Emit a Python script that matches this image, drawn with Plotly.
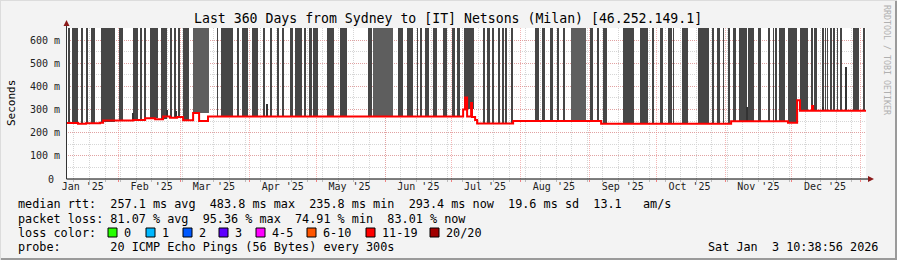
import numpy as np
import pandas as pd
import plotly.graph_objects as go

START = pd.Timestamp("2025-01-08 10:39")
END = START + pd.Timedelta(days=360)

# ---- data (day offsets from START, values in ms) ----
bar_start = [0.9, 2.7, 6.8, 9.0, 11.3, 15.8, 23.9, 30.2, 33.3, 35.1, 37.8, 42.8, 46.8, 48.6, 50.4,
             52.7, 57.2, 68.0, 69.8, 77.0, 79.2, 83.7, 88.7, 91.8, 95.0, 97.2, 100.8, 103.1, 107.1,
             109.4, 111.2, 117.5, 123.3, 135.9, 138.2, 149.4, 153.5, 158.0, 159.3, 161.6, 165.2,
             169.7, 173.7, 176.0, 179.1, 187.7, 189.5, 191.7, 194.4, 196.2, 197.6, 200.3, 211.1,
             214.2, 217.8, 221.0, 223.7, 227.3, 235.8, 239.0, 241.7, 250.7, 258.3, 263.7, 267.3,
             270.9, 273.2, 277.2, 284.4, 290.7, 293.0, 295.7, 297.9, 300.2, 302.9, 306.9, 311.4,
             315.9, 318.2, 319.1, 320.9, 324.9, 330.3, 335.3, 336.6, 340.2, 341.6, 342.5, 343.8,
             345.2, 347.0, 348.3, 354.2, 358.7]
bar_end = [1.8, 5.4, 7.7, 9.9, 13.1, 22.1, 25.7, 32.4, 34.2, 35.6, 41.4, 45.5, 47.7, 49.5, 51.3,
           55.4, 64.4, 68.4, 75.2, 77.9, 81.9, 86.4, 89.6, 92.7, 95.9, 97.7, 102.2, 106.2, 108.0,
           110.7, 113.4, 120.6, 126.5, 137.7, 147.2, 151.7, 156.2, 158.4, 160.2, 163.4, 167.0,
           171.5, 175.1, 177.3, 183.6, 188.6, 190.8, 192.2, 195.3, 196.7, 198.5, 201.2, 212.9,
           215.6, 219.2, 221.9, 224.6, 234.0, 237.2, 239.9, 243.5, 255.6, 261.9, 264.6, 268.7,
           272.7, 273.6, 279.9, 289.4, 291.2, 294.3, 296.1, 298.8, 301.5, 306.5, 309.6, 312.8,
           316.8, 318.6, 320.0, 323.6, 328.9, 333.9, 336.2, 337.9, 340.7, 342.0, 342.9, 344.3,
           346.1, 347.4, 349.2, 356.9, 359.6]
light_bars = [16, 34, 57]

spike_day = [30.2, 45.5, 49.5, 90.5, 306.5, 340.7, 351.2]
spike_top = [285, 300, 295, 322, 312, 310, 484]

median_day = [0, 5.4, 9.0, 15.3, 16.7, 30.2, 35.6, 40.1, 43.7, 46.8, 50.0, 52.7, 57.2, 59.9, 63.9,
              178.7, 179.6, 180.5, 182.3, 182.7, 184.1, 185.0, 201.2, 240.8, 299.3, 324.9, 329.0,
              330.3, 335.7, 336.2, 360]
median_ms = [242, 238, 241, 243, 252, 255, 262, 258, 270, 264, 268, 254, 285, 250, 270,
             300, 352, 270, 328, 268, 255, 240, 250, 239, 249, 243, 340,
             295, 315, 295, 295]

month_starts = ["2025-02-01", "2025-03-01", "2025-04-01", "2025-05-01", "2025-06-01", "2025-07-01",
                "2025-08-01", "2025-09-01", "2025-10-01", "2025-11-01", "2025-12-01", "2026-01-01"]
label_dates = ["2025-01-16", "2025-02-16", "2025-03-16", "2025-04-16", "2025-05-16", "2025-06-16",
               "2025-07-16", "2025-08-16", "2025-09-16", "2025-10-16", "2025-11-16", "2025-12-16"]
label_text = ["Jan '25", "Feb '25", "Mar '25", "Apr '25", "May '25", "Jun '25",
              "Jul '25", "Aug '25", "Sep '25", "Oct '25", "Nov '25", "Dec '25"]
y_ticks = [0, 100, 200, 300, 400, 500, 600]
y_text = ["0\u00a0", "100 m", "200 m", "300 m", "400 m", "500 m", "600 m"]

loss_labels = ["0", "1", "2", "3", "4-5", "6-10", "11-19", "20/20"]
loss_colors = ["#26ff00", "#00b8ff", "#0059ff", "#5e00ff", "#ff00ff", "#ff5500", "#ff0000", "#a10000"]

title = "Last 360 Days from Sydney to [IT] Netsons (Milan) [46.252.149.1]"
line1 = "median rtt:  257.1 ms avg  483.8 ms max  235.8 ms min  293.4 ms now  19.6 ms sd  13.1   am/s"
line2 = "packet loss: 81.07 % avg  95.36 % max  74.91 % min  83.01 % now"
line3 = "loss color:"
line4 = "probe:       20 ICMP Echo Pings (56 Bytes) every 300s"
stamp = "Sat Jan  3 10:38:56 2026"

# ---- geometry helpers ----
L, R, T, B = 66, 31, 28, 81
W, H = 897, 260
PW, PH = W - L - R, H - T - B
YMAX = 651.8
MONO = "DejaVu Sans Mono"


def px(x):
    return (x - L) / PW


def py(y):
    return (H - B - y) / PH


def nb(s):
    return s.replace(" ", "\u00a0")


def to_date(d):
    return START + pd.to_timedelta(np.asarray(d, dtype=float), unit="D")


md = np.array(median_day)
mv = np.array(median_ms)


def median_at(d):
    idx = np.searchsorted(md, np.asarray(d), side="right") - 1
    return mv[np.clip(idx, 0, len(mv) - 1)]


bs = np.array(bar_start)
be = np.array(bar_end)
centers = to_date((bs + be) / 2)
widths = (be - bs) * 86400000.0
bases = median_at(bs) + 2
colors = ["#5e5e5e" if i in light_bars else "#464646" for i in range(len(bs))]

sd = np.array(spike_day)
sbase = median_at(sd)

fig = go.Figure()
fig.add_trace(go.Bar(x=centers, y=700 - bases, base=bases, width=widths,
                     marker=dict(color=colors, line=dict(width=0)), hoverinfo="skip"))
fig.add_trace(go.Bar(x=to_date(sd), y=np.array(spike_top) - sbase, base=sbase,
                     width=[0.5 * 86400000.0] * len(sd),
                     marker=dict(color="#333333", line=dict(width=0)), hoverinfo="skip"))
fig.add_trace(go.Scatter(x=to_date(md), y=mv, mode="lines", xaxis="x2",
                         line=dict(color="#ff0000", width=2, shape="hv"), hoverinfo="skip"))

major_grid = "rgba(235,120,120,0.55)"
minor_grid = "#d6d6d6"
tickfont = dict(family=MONO, size=10, color="#222222")

fig.update_layout(
    width=W, height=H, margin=dict(l=L, r=R, t=T, b=B, pad=0),
    paper_bgcolor="#f3f3f3", plot_bgcolor="#ffffff", showlegend=False,
    barmode="overlay", bargap=0,
    xaxis=dict(type="date", range=[START, END], tickvals=month_starts, showticklabels=False,
               showgrid=True, gridcolor=major_grid, griddash="1px,1px", gridwidth=1,
               ticks="outside", ticklen=2, tickcolor="#f08080", zeroline=False, showline=False,
               minor=dict(dtick=7 * 86400000, tick0="2025-01-05", showgrid=True,
                          gridcolor=minor_grid, griddash="1px,1px", ticks="outside",
                          ticklen=2, tickcolor="#bbbbbb")),
    xaxis2=dict(type="date", overlaying="x", side="bottom", range=[START, END],
                tickvals=label_dates, ticktext=label_text, showgrid=False, zeroline=False,
                ticks="", tickfont=tickfont, showline=False),
    yaxis=dict(range=[0, YMAX], tickvals=y_ticks, ticktext=y_text, showgrid=True,
               gridcolor=major_grid, griddash="1px,1px", zeroline=False, ticks="",
               ticklabelstandoff=5,
               tickfont=tickfont, showline=False,
               minor=dict(dtick=50, showgrid=True, gridcolor=minor_grid, griddash="1px,1px")),
)

shapes = []
# axis lines with arrows
shapes.append(dict(type="line", xref="paper", yref="paper", x0=px(66.5), x1=px(870),
                   y0=py(179), y1=py(179), line=dict(color="#000000", width=1)))
shapes.append(dict(type="line", xref="paper", yref="paper", x0=px(66.5), x1=px(66.5),
                   y0=py(179), y1=py(24), line=dict(color="#333333", width=1)))
shapes.append(dict(type="path", xref="paper", yref="paper",
                   path=f"M {px(63.5)} {py(26)} L {px(69.5)} {py(26)} L {px(66.5)} {py(20)} Z",
                   fillcolor="#8b1a1a", line=dict(width=0)))
shapes.append(dict(type="path", xref="paper", yref="paper",
                   path=f"M {px(868)} {py(176)} L {px(868)} {py(182)} L {px(874)} {py(179)} Z",
                   fillcolor="#8b1a1a", line=dict(width=0)))
# frame
shapes.append(dict(type="line", xref="paper", yref="paper", x0=px(0), x1=px(897),
                   y0=py(259), y1=py(259), line=dict(color="#9a9a9a", width=2)))
shapes.append(dict(type="line", xref="paper", yref="paper", x0=px(896), x1=px(896),
                   y0=py(0), y1=py(260), line=dict(color="#9a9a9a", width=2)))
shapes.append(dict(type="line", xref="paper", yref="paper", x0=px(0), x1=px(897),
                   y0=py(0.5), y1=py(0.5), line=dict(color="#dcdcdc", width=1)))
shapes.append(dict(type="line", xref="paper", yref="paper", x0=px(0.5), x1=px(0.5),
                   y0=py(0), y1=py(260), line=dict(color="#dcdcdc", width=1)))

annotations = []


def text(x, y, s, size=11.8, anchor="left", color="#000000", angle=0):
    annotations.append(dict(x=px(x), y=py(y), xref="paper", yref="paper", text=nb(s),
                            showarrow=False, xanchor=anchor, yanchor="middle",
                            textangle=angle, font=dict(family=MONO, size=size, color=color)))


text(448, 19, title, size=13.2, anchor="center")
text(11, 103, "Seconds", size=11, anchor="center", angle=-90)
text(887, 60, "RRDTOOL / TOBI OETIKER", size=8.3, anchor="center", color="#b0b0b0", angle=90)
text(16, 204, line1)
text(16, 218.5, line2)
text(16, 232.5, line3)
text(16, 246.5, line4)
text(880, 246.5, stamp, anchor="right")

box_x = [108, 146, 183, 219, 256, 307, 366, 430]
for bx, lab, col in zip(box_x, loss_labels, loss_colors):
    shapes.append(dict(type="rect", xref="paper", yref="paper", x0=px(bx), x1=px(bx + 9),
                       y0=py(228), y1=py(237), fillcolor=col, line=dict(color="#000000", width=1)))
    text(bx + 14, 232.5, lab)

fig.update_layout(shapes=shapes, annotations=annotations)
fig.write_html("out.html")
